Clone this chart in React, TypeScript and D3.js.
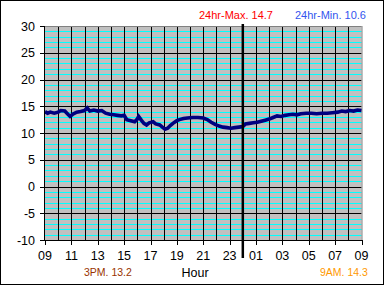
import React from "react";
import * as d3 from "d3";

const hours = [9.0, 9.2, 9.4, 9.7, 10.0, 10.2, 10.5, 10.7, 10.9, 11.1, 11.4, 11.7, 12.0, 12.2, 12.4, 12.7, 13.0, 13.3, 13.6, 13.9, 14.2, 14.5, 14.8, 15.0, 15.2, 15.5, 15.8, 16.0, 16.1, 16.3, 16.5, 16.7, 16.9, 17.2, 17.4, 17.7, 17.9, 18.1, 18.3, 18.5, 18.7, 19.0, 19.2, 19.5, 19.8, 20.2, 20.6, 21.0, 21.3, 21.6, 21.9, 22.2, 22.5, 22.8, 23.1, 23.4, 23.7, 24.0, 24.2, 24.5, 24.8, 25.1, 25.4, 25.7, 26.0, 26.3, 26.6, 26.9, 27.2, 27.5, 27.8, 28.1, 28.4, 28.8, 29.2, 29.6, 30.0, 30.4, 30.8, 31.2, 31.5, 31.8, 32.1, 32.4, 32.7, 33.0];
const temps = [14.0, 13.7, 13.9, 13.7, 13.9, 14.2, 14.1, 13.6, 13.1, 13.5, 13.9, 14.0, 14.2, 14.7, 14.1, 14.3, 14.1, 14.2, 13.7, 13.5, 13.4, 13.3, 13.2, 13.3, 12.5, 12.3, 12.1, 12.6, 13.1, 12.4, 11.8, 11.5, 11.9, 12.1, 11.7, 11.5, 11.1, 10.7, 10.9, 11.4, 11.8, 12.3, 12.5, 12.7, 12.8, 12.9, 12.9, 12.8, 12.5, 12.0, 11.6, 11.3, 11.1, 11.0, 10.9, 11.0, 11.1, 11.2, 11.7, 11.8, 11.9, 12.0, 12.2, 12.4, 12.6, 12.9, 13.2, 13.1, 13.3, 13.4, 13.5, 13.4, 13.6, 13.7, 13.7, 13.6, 13.7, 13.7, 13.8, 13.9, 14.1, 14.0, 14.2, 14.1, 14.3, 14.2];

const xTickLabels = ["09", "11", "13", "15", "17", "19", "21", "23", "01", "03", "05", "07", "09"];
const yTicks = [-10, -5, 0, 5, 10, 15, 20, 25, 30];
const maxLabel = "24hr-Max. 14.7";
const minLabel = "24hr-Min. 10.6";
const pmLabel = "3PM. 13.2";
const amLabel = "9AM. 14.3";
const xTitle = "Hour";

const W = 385, H = 286;
const X0 = 45, X1 = 361.5, Y0 = 26, Y1 = 240;
const FONT = "'Liberation Sans', Arial, sans-serif";

export default function App() {
  const x = d3.scaleLinear().domain([9, 33]).range([X0, X1]);
  const y = d3.scaleLinear().domain([-10, 30]).range([Y1, Y0]);
  const px = (v: number) => Math.round(v) + 0.5;

  const minor = d3.range(-10, 31, 1).filter((v) => v % 5 !== 0);
  const hourLines = d3.range(10, 33, 1);
  const tickHours = d3.range(9, 34, 2);

  const line = d3
    .line<number>()
    .x((_, i) => x(hours[i]))
    .y((d) => y(d));

  return (
    <div style={{ position: "fixed", left: 0, top: 0 }}>
      <svg width={W} height={H} style={{ display: "block" }} fontFamily={FONT}>
        <rect x={0} y={0} width={W} height={H} fill="#fff" />
        <rect x={0.5} y={0.5} width={383} height={284} fill="none" stroke="#000" />
        <rect x={X0} y={Y0} width={X1 - X0} height={Y1 - Y0} fill="#c0c0c0" />
        {minor.map((v) => (
          <line key={"c" + v} x1={X0} x2={X1} y1={px(y(v))} y2={px(y(v))} stroke="#00ffff" />
        ))}
        {yTicks.slice(1, -1).map((v) => (
          <line key={"h" + v} x1={X0} x2={X1} y1={px(y(v))} y2={px(y(v))} stroke="#000" />
        ))}
        {hourLines.map((h) => (
          <line key={"v" + h} x1={px(x(h))} x2={px(x(h))} y1={Y0} y2={Y1} stroke="#000" />
        ))}
        <line x1={X0} x2={X1} y1={Y0 + 0.5} y2={Y0 + 0.5} stroke="#808080" />
        <line x1={X1 + 0.5} x2={X1 + 0.5} y1={Y0} y2={Y1} stroke="#808080" />
        <path d={line(temps) || ""} fill="none" stroke="#000080" strokeWidth={3.6} strokeLinejoin="miter" />
        <line x1={X0 - 0.5} x2={X0 - 0.5} y1={Y0} y2={Y1 + 0.5} stroke="#000" />
        <line x1={X0 - 0.5} x2={X1 + 1} y1={Y1 + 0.5} y2={Y1 + 0.5} stroke="#000" />
        {yTicks.map((v) => (
          <g key={"yt" + v}>
            <line x1={X0 - 5} x2={X0} y1={px(y(v))} y2={px(y(v))} stroke="#000" />
            <text x={X0 - 10} y={y(v) + 4.5} fontSize={12.5} textAnchor="end" fill="#000">
              {v}
            </text>
          </g>
        ))}
        {tickHours.map((h, i) => (
          <g key={"xt" + h}>
            <line x1={px(x(h))} x2={px(x(h))} y1={Y1} y2={Y1 + 5} stroke="#000" />
            <text x={x(h)} y={260} fontSize={12.5} textAnchor="middle" fill="#000">
              {xTickLabels[i]}
            </text>
          </g>
        ))}
        <line x1={x(24)} x2={x(24)} y1={24} y2={258} stroke="#000" strokeWidth={2.5} />
        <text x={195} y={277} fontSize={12.5} textAnchor="middle" fill="#000">
          {xTitle}
        </text>
        <text x={199} y={18.5} fontSize={11} fill="#ff0000">
          {maxLabel}
        </text>
        <text x={295} y={18.5} fontSize={11} fill="#3355ee">
          {minLabel}
        </text>
        <text x={84} y={276} fontSize={10.5} fill="#993300">
          {pmLabel}
        </text>
        <text x={320} y={276} fontSize={10.5} fill="#ff9900">
          {amLabel}
        </text>
      </svg>
    </div>
  );
}
